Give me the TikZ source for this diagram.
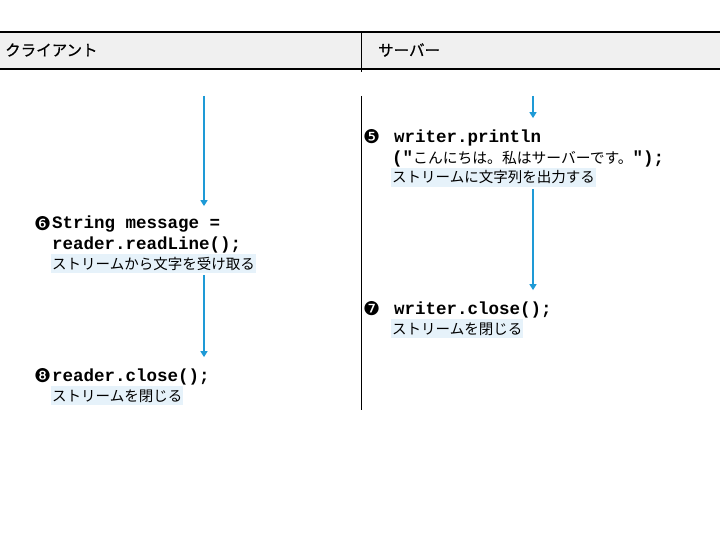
\documentclass[tikz,border=0pt]{standalone}
\usepackage{fontspec}
\usetikzlibrary{arrows.meta}
\newfontfamily\jp{Noto Sans CJK JP}
\newfontfamily\jph[FakeBold=0.6]{Noto Sans CJK JP}
\newfontfamily\mono{Liberation Mono}
\newfontfamily\dings{DejaVu Sans}
\definecolor{flow}{HTML}{1E9AD6}
\definecolor{hdr}{HTML}{F0F0F0}
\definecolor{hl}{HTML}{E6F2FA}
\tikzset{
  code/.style={font=\mono\bfseries\fontsize{17.5}{20}\selectfont, anchor=base west, inner sep=0pt},
  jpl/.style={font=\jp\fontsize{14.5}{16}\selectfont, anchor=base west, fill=hl, inner xsep=1pt, inner ysep=3pt},
  num/.style={font=\dings\fontsize{19}{19}\selectfont, anchor=base west, inner sep=0pt},
  head/.style={font=\jph\fontsize{15.5}{17}\selectfont, anchor=west, inner sep=0pt},
  arr/.style={draw=flow, line width=1.9pt, -{Triangle[length=6pt,width=7pt]}},
  rule/.style={draw=black, line width=0.8pt}
}
\newcommand{\jpin}[1]{{\jp\mdseries\fontsize{14.8}{16}\selectfont #1}}
\begin{document}
\begin{tikzpicture}[x=1pt,y=-1pt]
\useasboundingbox (0,0) rectangle (720,540);
% header
\fill[hdr] (0,32) rectangle (720,69);
\draw[line width=2pt] (0,32) -- (720,32);
\draw[line width=1.5pt] (0,69) -- (720,69);
\draw[rule] (361,32) -- (361,72);
\node[head] (hc) at (5,50) {クライアント};
\node[head] (hs) at (378,50) {サーバー};
\draw[rule] (361,96) -- (361,410);
% server step 5
\node[num] (n5) at (363,144) {❺};
\node[code] (s5a) at (394,143) {writer.println};
\node[code] (s5b) at (392,164) {("\jpin{こんにちは。私はサーバーです。}");};
\node[jpl] (s5c) at (391,183) {ストリームに文字列を出力する};
% server step 7
\node[num] (n7) at (363,315) {❼};
\node[code] (s7a) at (394,314) {writer.close();};
\node[jpl] (s7b) at (391,334) {ストリームを閉じる};
% client step 6
\node[num] (n6) at (34,230) {❻};
\node[code] (s6a) at (52,229) {String message =};
\node[code] (s6b) at (52,249) {reader.readLine();};
\node[jpl] (s6c) at (51,269) {ストリームから文字を受け取る};
% client step 8
\node[num] (n8) at (34,382) {❽};
\node[code] (s8a) at (52,381) {reader.close();};
\node[jpl] (s8b) at (51,401) {ストリームを閉じる};
% arrows
\coordinate (ra) at (533,96);
\coordinate (la) at (204,96);
\draw[arr] (ra) -- ([yshift=12pt]s5a.north -| ra);
\draw[arr] ([yshift=-2pt]s5c.south -| ra) -- ([yshift=11pt]s7a.north -| ra);
\draw[arr] (la) -- ([yshift=10pt]s6a.north -| la);
\draw[arr] ([yshift=-2pt]s6c.south -| la) -- ([yshift=11pt]s8a.north -| la);
\end{tikzpicture}
\end{document}
